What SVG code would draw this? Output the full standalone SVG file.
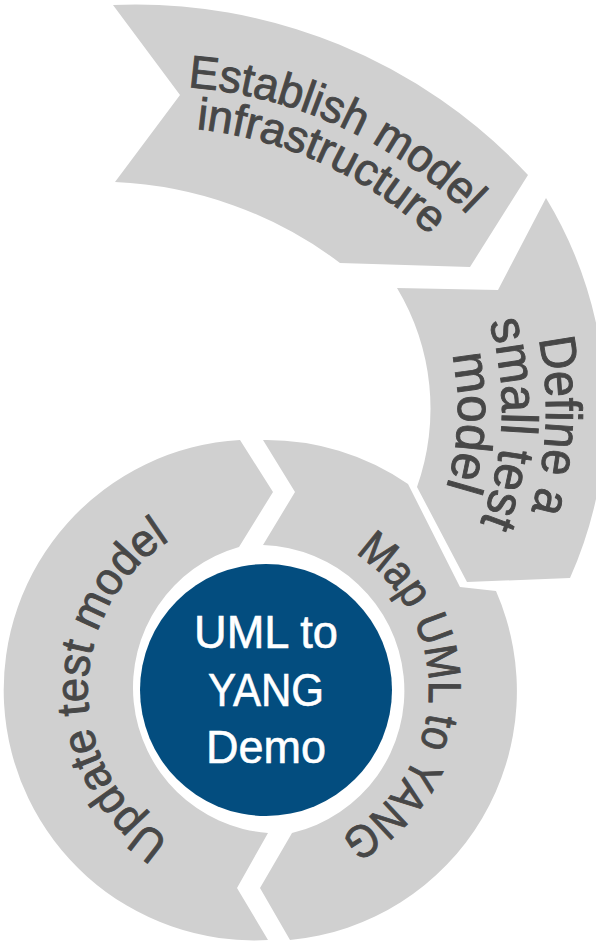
<svg xmlns="http://www.w3.org/2000/svg" xmlns:xlink="http://www.w3.org/1999/xlink" width="596" height="942" viewBox="0 0 596 942">
  <style>
    .seg { fill: #d0d0d0; stroke: none; }
    .lbl { font-family: "Liberation Sans", Arial, sans-serif; fill: #474747; stroke: #474747; stroke-width: 0.9px; text-anchor: middle; }
    .ctr { font-family: "Liberation Sans", Arial, sans-serif; fill: #ffffff; stroke: #ffffff; stroke-width: 0.6px; font-size: 46px; text-anchor: middle; }
  </style>
  <defs>
    <path id="pEst1" d="M -2.2 114.2 A 446 446 0 0 1 571.8 375.8"/>
    <path id="pEst2" d="M 12.2 152.6 A 405 405 0 0 1 533.4 390.2"/>
    <path id="pDef1" d="M 453.8 172.9 A 351 351 0 0 1 432.1 668.8"/>
    <path id="pDef2" d="M 421.3 202.6 A 307 307 0 0 1 402.4 636.3"/>
    <path id="pDef3" d="M 388.9 232.3 A 263 263 0 0 1 372.7 603.9"/>
    <path id="pMap" d="M 302.7 531.2 A 163 163 0 0 1 285.9 851.8"/>
    <path id="pUpd" d="M 235.1 865.3 A 178 178 0 0 1 235.1 514.7"/>
  </defs>
  <rect x="0" y="0" width="596" height="942" fill="#ffffff"/>

  <g id="establish">
    <path class="seg" d="M 113 5 A 537 537 0 0 1 528 175 L 470 267 L 340 263 A 402 402 0 0 0 115 182 L 180 95 Z"/>
    <text class="lbl" font-size="46"><textPath xlink:href="#pEst1" href="#pEst1" startOffset="50%" textLength="314" lengthAdjust="spacingAndGlyphs">Establish model</textPath></text>
    <text class="lbl" font-size="45"><textPath xlink:href="#pEst2" href="#pEst2" startOffset="50%" textLength="262" lengthAdjust="spacingAndGlyphs">infrastructure</textPath></text>
  </g>

  <g id="define">
    <path class="seg" d="M 397 288 L 498 290 L 546 198 A 410 410 0 0 1 570 578 L 467 582 L 417 487 A 234 234 0 0 0 397 288 Z"/>
    <text class="lbl" font-size="51"><textPath xlink:href="#pDef1" href="#pDef1" startOffset="50%" textLength="174" lengthAdjust="spacingAndGlyphs">Define a</textPath></text>
    <text class="lbl" font-size="51"><textPath xlink:href="#pDef2" href="#pDef2" startOffset="50%" textLength="205" lengthAdjust="spacingAndGlyphs">small test</textPath></text>
    <text class="lbl" font-size="51"><textPath xlink:href="#pDef3" href="#pDef3" startOffset="50%" textLength="135" lengthAdjust="spacingAndGlyphs">model</textPath></text>
  </g>

  <g id="map">
    <path class="seg" d="M 263 440 A 250 250 0 0 1 408 484 L 460 587 L 496 591 A 250 250 0 0 1 290 940 L 260 888 L 292 833 A 146 146 0 0 0 263 545 L 295 492 Z"/>
    <text class="lbl" font-size="46"><textPath xlink:href="#pMap" href="#pMap" startOffset="50%" textLength="341" lengthAdjust="spacingAndGlyphs">Map UML to YANG</textPath></text>
  </g>

  <g id="update">
    <path class="seg" d="M 240 440 L 273 492 L 239 547 A 146 146 0 0 0 268 833 L 237 888 L 268 940 A 250 250 0 0 1 240 440 Z"/>
    <text class="lbl" font-size="46"><textPath xlink:href="#pUpd" href="#pUpd" startOffset="50%" textLength="356" lengthAdjust="spacingAndGlyphs">Update test model</textPath></text>
  </g>

  <g id="center">
    <circle cx="266" cy="690" r="126" fill="#034d7f"/>
    <text class="ctr" x="266" y="648" textLength="144" lengthAdjust="spacingAndGlyphs">UML to</text>
    <text class="ctr" x="266" y="706" textLength="116" lengthAdjust="spacingAndGlyphs">YANG</text>
    <text class="ctr" x="266" y="763" textLength="120" lengthAdjust="spacingAndGlyphs">Demo</text>
  </g>

  <g id="connectors"/>
</svg>
